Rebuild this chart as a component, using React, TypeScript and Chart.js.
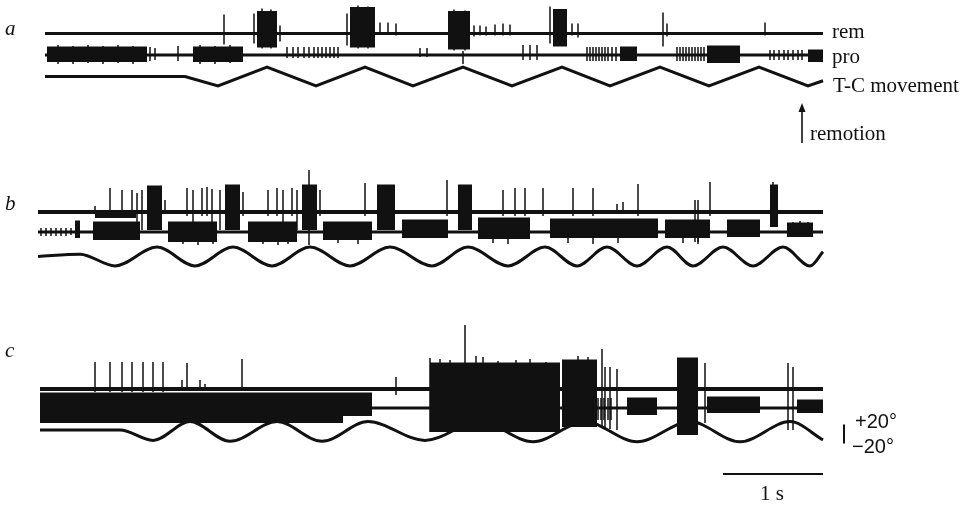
import React, { useEffect, useRef } from 'react';
import { Chart, registerables } from 'chart.js';

Chart.register(...registerables);

// ---------- DATA (time in s, deflections in trace units, angles in degrees) ----------
// Burst: [start s, end s, upper deflection, lower deflection]
// Spike: [time s, upper deflection, lower deflection]
// Vertex: [time s, T-C angle in degrees]

const traceStart = { a: 0.07, b: 0.0, c: 0.02 };
const traceEnd = 7.85;

// panel a
const remBurstsA = [
  [2.19, 2.39, 22, -14],
  [3.12, 3.37, 26, -14],
  [4.1, 4.32, 22, -16],
  [5.15, 5.29, 24, -13],
];
const remSpikesA = [
  [1.86, 19, -11], [2.16, 20, -10], [2.24, 25, -15], [2.33, 24, -15], [2.42, 8, -8], [3.09, 20, -12],
  [3.2, 28, -15], [3.3, 27, -15], [3.42, 11, -1], [3.5, 11, -1], [3.58, 10, -2], [4.16, 24, -17],
  [4.27, 23, -17], [4.36, 8, -3], [4.42, 8, -2], [4.48, 7, -2], [4.57, 9, -2], [4.65, 10, -2],
  [4.72, 9, -2], [5.12, 27, -10], [5.34, 10, -2], [5.4, 10, -4], [6.25, 21, -13], [6.29, 10, -3],
  [7.27, 11, -2],
];
const proBurstsA = [
  [0.09, 1.09, 8, -7],
  [1.55, 2.05, 8, -7],
  [5.82, 5.99, 8, -6],
  [6.69, 7.02, 9, -8],
  [7.7, 7.85, 5, -7],
];
const proSpikesA = [
  [0.2, 10, -9], [0.35, 9, -9], [0.5, 10, -8], [0.65, 9, -9], [0.8, 10, -8], [0.95, 9, -9],
  [1.12, 8, -6], [1.17, 7, -5], [1.4, 9, -6], [1.62, 10, -9], [1.77, 9, -9], [1.92, 10, -8],
  [2.49, 8, -3], [2.55, 8, -3], [2.6, 8, -3], [2.66, 8, -3], [2.71, 8, -3], [2.76, 8, -3],
  [2.8, 8, -3], [2.84, 8, -3], [2.88, 8, -3], [2.92, 8, -3], [2.96, 8, -3], [3.0, 8, -3],
  [3.82, 7, -2], [3.89, 7, -2], [4.25, 4, -9], [4.85, 10, -5], [4.92, 10, -5], [4.99, 10, -5],
  [5.49, 8, -6], [5.52, 8, -6], [5.55, 8, -6], [5.58, 8, -6], [5.61, 8, -6], [5.64, 8, -6],
  [5.67, 8, -6], [5.7, 8, -6], [5.74, 8, -6], [5.78, 8, -6],
  [6.39, 8, -6], [6.42, 8, -6], [6.45, 8, -6], [6.48, 8, -6], [6.51, 8, -6], [6.54, 8, -6],
  [6.57, 8, -6], [6.6, 8, -6], [6.63, 8, -6], [6.66, 8, -6],
  [7.32, 5, -5], [7.36, 5, -5], [7.41, 5, -5], [7.46, 5, -5], [7.5, 5, -5], [7.55, 5, -5],
  [7.6, 5, -5], [7.64, 5, -5],
];
const tcA = [
  [0.07, 0], [1.47, 0], [1.8, -20], [2.29, 20], [2.78, -20], [3.27, 20], [3.75, -20], [4.25, 20],
  [4.74, -20], [5.24, 20], [5.72, -20], [6.22, 20], [6.71, -20], [7.21, 20], [7.7, -20], [7.85, -9],
];

// panel b
const remBurstsB = [
  [1.09, 1.24, 26, -18],
  [1.87, 2.02, 27, -18],
  [2.64, 2.79, 27, -18],
  [3.39, 3.57, 27, -18],
  [4.2, 4.34, 27, -18],
  [7.32, 7.4, 27, -15],
];
const remSpikesB = [
  [0.57, 6, -2], [0.72, 24, -4], [0.84, 22, -4], [0.94, 22, -4], [0.99, 19, -12], [1.04, 22, -18],
  [1.27, 12, -2], [1.49, 24, -4], [1.55, 22, -16], [1.64, 24, -4], [1.69, 25, -4], [1.74, 23, -18],
  [1.82, 22, -18], [2.05, 20, -4], [2.3, 22, -4], [2.39, 24, -4], [2.45, 22, -18], [2.54, 24, -4],
  [2.59, 22, -18], [2.71, 42, -33], [2.82, 22, -4], [3.27, 29, -4], [4.09, 32, -4], [4.65, 22, -4],
  [4.77, 24, -4], [4.87, 24, -4], [5.05, 24, -4], [5.35, 24, -4], [5.55, 24, -4], [5.79, 8, -2],
  [5.85, 10, -2], [6.0, 28, -4], [6.57, 12, -30], [6.6, 12, -30], [6.72, 30, -4], [7.35, 30, -15],
];
const proBurstsB = [
  [0.37, 0.42, 11, -6],
  [0.57, 0.98, 18, 14],
  [0.55, 1.02, 10, -8],
  [1.3, 1.79, 10, -10],
  [2.1, 2.59, 10, -10],
  [2.85, 3.34, 10, -8],
  [3.64, 4.1, 12, -6],
  [4.4, 4.92, 14, -7],
  [5.12, 6.2, 13, -6],
  [6.27, 6.72, 12, -6],
  [6.89, 7.22, 12, -5],
  [7.49, 7.75, 9, -5],
];
const proSpikesB = [
  [0.03, 4, -4], [0.08, 4, -4], [0.13, 4, -4], [0.18, 4, -4], [0.23, 4, -4], [0.28, 4, -4],
  [0.33, 4, -3], [1.45, 0, -12], [1.6, 0, -13], [1.75, 0, -12], [2.25, 0, -12], [2.4, 0, -13],
  [2.5, 0, -12], [3.0, 0, -11], [3.2, 0, -12], [4.55, 0, -11], [4.7, 0, -12], [5.3, 0, -11],
  [5.55, 0, -12], [5.8, 0, -11], [6.45, 0, -11], [6.6, 0, -12], [7.55, 10, -5], [7.62, 11, -5],
  [7.7, 10, -5],
];
const tcB = [
  [0.0, 0], [0.42, 5], [0.77, -20], [1.19, 20], [1.57, -20], [1.95, 20], [2.34, -20], [2.72, 20],
  [3.12, -20], [3.52, 20], [3.94, -20], [4.3, 20], [4.7, -20], [5.07, 20], [5.39, -20], [5.69, 20],
  [5.99, -20], [6.29, 20], [6.55, -20], [6.85, 20], [7.15, -20], [7.45, 20], [7.72, -20], [7.85, 10],
];

// panel c
const remBurstsC = [
  [3.92, 5.22, 26, -43],
  [5.24, 5.59, 29, -38],
  [6.39, 6.6, 31, -46],
];
const remSpikesC = [
  [0.57, 27, -3], [0.72, 27, -3], [0.84, 27, -3], [0.94, 27, -3], [1.05, 27, -3], [1.15, 27, -3],
  [1.25, 27, -3], [1.44, 9, 0], [1.49, 26, 0], [1.62, 9, 0], [1.67, 5, 0], [2.04, 30, 0],
  [3.58, 12, -6], [3.92, 31, -43], [4.02, 30, 0], [4.12, 29, 0], [4.27, 64, 20], [4.38, 33, 0],
  [4.45, 32, 0], [4.6, 28, 0], [4.78, 29, 0], [4.92, 30, 0], [5.08, 27, 0], [5.4, 33, 0],
  [5.5, 32, 0], [5.64, 40, -38], [5.67, 22, -40], [5.72, 22, -40], [5.79, 20, -41],
  [6.67, 26, -34], [7.5, 26, -41], [7.55, 22, -41],
];
const proBurstsC = [
  [0.02, 3.05, 15, -15],
  [3.05, 3.34, 15, -8],
  [5.89, 6.19, 10, -7],
  [6.69, 7.22, 11, -5],
  [7.59, 7.85, 8, -5],
];
const proSpikesC = [
  [5.6, 10, -12], [5.63, 10, -12], [5.66, 10, -12], [5.7, 10, -12], [5.73, 10, -12],
];
const tcC = [
  [0.02, 2], [0.82, 2], [1.15, -20], [1.52, 20], [1.92, -22], [2.39, 20], [2.84, -22], [3.3, 20],
  [3.87, -20], [4.42, 20], [4.95, -23], [5.47, 20], [5.99, -23], [6.52, 20], [7.02, -23],
  [7.52, 20], [7.85, -19],
];

// calibration
const angleCalibration = [20, -20]; // degrees
const timeCalibration = 1; // s

// ---------- LAYOUT ----------
const INK = '#111111';
const X_MIN = -0.38;
const X_MAX = 9.38;
const Y_MAX = 505;
const DEG = 0.47; // trace units per degree

const layout = {
  a: { rem: 33.5, pro: 55, tc: 76.5, remW: 3, proW: 3 },
  b: { rem: 212, pro: 232, tc: 256.5, remW: 4, proW: 3 },
  c: { rem: 389, pro: 408, tc: 431, remW: 4, proW: 3 },
};
const calib = { angleT: 8.06, angleCenter: 434, timeStart: 6.85, timeY: 474 };
const arrowLayout = { t: 7.64, from: 143, to: 103 };

const SERIF = '"Liberation Serif", "DejaVu Serif", serif';
const SANS = '"Liberation Sans", "DejaVu Sans", sans-serif';
const textLayout = [
  { text: 'a', t: -0.33, y: 35, font: `italic 21px ${SERIF}` },
  { text: 'b', t: -0.33, y: 210, font: `italic 21px ${SERIF}` },
  { text: 'c', t: -0.33, y: 357, font: `italic 21px ${SERIF}` },
  { text: 'rem', t: 7.94, y: 38, font: `21px ${SERIF}` },
  { text: 'pro', t: 7.94, y: 63, font: `21px ${SERIF}` },
  { text: 'T-C movement', t: 7.95, y: 92, font: `21px ${SERIF}` },
  { text: 'remotion', t: 7.72, y: 140, font: `21px ${SERIF}` },
  { text: `+${angleCalibration[0]}°`, t: 8.17, y: 428, font: `20px ${SANS}` },
  { text: `−${Math.abs(angleCalibration[1])}°`, t: 8.14, y: 453, font: `20px ${SANS}` },
  { text: `${timeCalibration} s`, t: 7.22, y: 500, font: `21px ${SERIF}` },
];

// ---------- DATASET BUILDERS ----------
function baseLine(t0: number, base: number, width: number) {
  return {
    type: 'line',
    data: [{ x: t0, y: base }, { x: traceEnd, y: base }],
    borderColor: INK,
    borderWidth: width,
    pointRadius: 0,
    fill: false,
  };
}

function burstSets(bursts: number[][], base: number) {
  return bursts.map(([t0, t1, hi, lo]) => ({
    type: 'line',
    data: [{ x: t0, y: base - hi }, { x: t1, y: base - hi }],
    borderColor: INK,
    borderWidth: 1,
    backgroundColor: INK,
    pointRadius: 0,
    fill: { value: base - lo },
  }));
}

function spikeSet(spikes: number[][], base: number) {
  const pts: any[] = [];
  spikes.forEach(([t, hi, lo]) => {
    pts.push({ x: t, y: base - hi }, { x: t, y: base - lo }, { x: t, y: null });
  });
  return {
    type: 'line',
    data: pts,
    borderColor: INK,
    borderWidth: 1.5,
    pointRadius: 0,
    spanGaps: false,
    fill: false,
  };
}

function tcSet(vertices: number[][], center: number, smooth: boolean) {
  return {
    type: 'line',
    data: vertices.map(([t, deg]) => ({ x: t, y: center - deg * DEG })),
    borderColor: INK,
    borderWidth: 3,
    pointRadius: 0,
    fill: false,
    tension: smooth ? 0.4 : 0,
    cubicInterpolationMode: smooth ? 'monotone' : 'default',
    borderJoinStyle: 'miter',
  };
}

function calibrationSets() {
  return [
    {
      type: 'line',
      data: angleCalibration.map((d) => ({ x: calib.angleT, y: calib.angleCenter - d * DEG })),
      borderColor: INK,
      borderWidth: 2,
      pointRadius: 0,
      fill: false,
    },
    {
      type: 'line',
      data: [
        { x: calib.timeStart, y: calib.timeY },
        { x: calib.timeStart + timeCalibration, y: calib.timeY },
      ],
      borderColor: INK,
      borderWidth: 2,
      pointRadius: 0,
      fill: false,
    },
  ];
}

const figureTextPlugin = {
  id: 'figureText',
  afterDatasetsDraw(chart: any) {
    const { ctx, scales } = chart;
    const x = scales.x;
    const y = scales.y;
    ctx.save();
    ctx.fillStyle = INK;
    ctx.strokeStyle = INK;
    ctx.textBaseline = 'alphabetic';
    ctx.textAlign = 'left';
    for (const l of textLayout) {
      ctx.font = l.font;
      ctx.fillText(l.text, x.getPixelForValue(l.t), y.getPixelForValue(l.y));
    }
    // arrow (remotion direction)
    const ax = x.getPixelForValue(arrowLayout.t);
    const yFrom = y.getPixelForValue(arrowLayout.from);
    const yTo = y.getPixelForValue(arrowLayout.to);
    ctx.lineWidth = 1.6;
    ctx.beginPath();
    ctx.moveTo(ax, yFrom);
    ctx.lineTo(ax, yTo + 6);
    ctx.stroke();
    ctx.beginPath();
    ctx.moveTo(ax, yTo);
    ctx.lineTo(ax - 3.5, yTo + 9);
    ctx.lineTo(ax + 3.5, yTo + 9);
    ctx.closePath();
    ctx.fill();
    ctx.restore();
  },
};

export default function App() {
  const ref = useRef<HTMLCanvasElement | null>(null);

  useEffect(() => {
    if (!ref.current) return;
    const datasets: any[] = [
      baseLine(traceStart.a, layout.a.rem, layout.a.remW),
      baseLine(traceStart.a, layout.a.pro, layout.a.proW),
      ...burstSets(remBurstsA, layout.a.rem),
      spikeSet(remSpikesA, layout.a.rem),
      ...burstSets(proBurstsA, layout.a.pro),
      spikeSet(proSpikesA, layout.a.pro),
      tcSet(tcA, layout.a.tc, false),

      baseLine(traceStart.b, layout.b.rem, layout.b.remW),
      baseLine(traceStart.b, layout.b.pro, layout.b.proW),
      ...burstSets(remBurstsB, layout.b.rem),
      spikeSet(remSpikesB, layout.b.rem),
      ...burstSets(proBurstsB, layout.b.pro),
      spikeSet(proSpikesB, layout.b.pro),
      tcSet(tcB, layout.b.tc, true),

      baseLine(traceStart.c, layout.c.rem, layout.c.remW),
      baseLine(traceStart.c, layout.c.pro, layout.c.proW),
      ...burstSets(remBurstsC, layout.c.rem),
      spikeSet(remSpikesC, layout.c.rem),
      ...burstSets(proBurstsC, layout.c.pro),
      spikeSet(proSpikesC, layout.c.pro),
      tcSet(tcC, layout.c.tc, true),

      ...calibrationSets(),
    ];

    const chart = new Chart(ref.current, {
      type: 'line',
      data: { datasets },
      options: {
        animation: false,
        responsive: false,
        events: [],
        layout: { padding: 0 },
        plugins: {
          legend: { display: false },
          tooltip: { enabled: false },
          title: { display: false },
        },
        scales: {
          x: { type: 'linear', min: X_MIN, max: X_MAX, display: false },
          y: { type: 'linear', min: 0, max: Y_MAX, reverse: true, display: false },
        },
      },
      plugins: [figureTextPlugin],
    } as any);
    return () => chart.destroy();
  }, []);

  return (
    <div style={{ position: 'fixed', left: 0, top: 0, width: 976, height: 505, background: '#fff' }}>
      <canvas ref={ref} width={976} height={505} />
    </div>
  );
}
